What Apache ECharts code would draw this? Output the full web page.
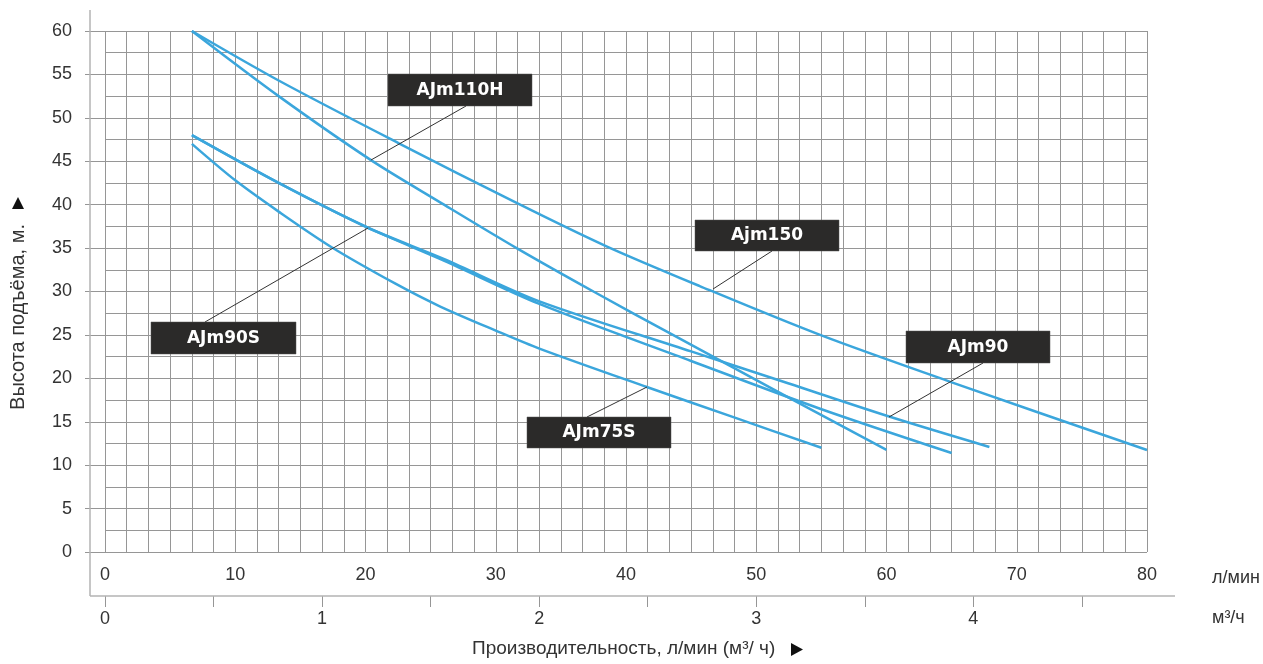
<!DOCTYPE html>
<html>
<head>
<meta charset="utf-8">
<script src="https://cdn.jsdelivr.net/npm/echarts@6/dist/echarts.min.js"></script>
<style>
html,body{margin:0;padding:0;background:#fff;}
#chart{width:1263px;height:664px;}
</style>
</head>
<body>
<div id="chart"></div>
<script>
// ---- data (flow in л/мин, head in м) ----
const seriesNames = ['AJm110H', 'Ajm150', 'AJm90', 'AJm90S', 'AJm75S'];
const flowAJm110H = [6.67, 13.33, 20.45, 25.7, 31.6, 37.5, 43.6, 52.6, 60];
const headAJm110H = [60, 52.5, 45.1, 40.3, 35.0, 30.0, 25.0, 17.7, 11.75];
const flowAjm150 = [6.67, 13.33, 22.56, 31.6, 38.5, 45.7, 54.9, 64.9, 80];
const headAjm150 = [60, 54.3, 47.07, 40.2, 35.2, 30.6, 25.0, 19.6, 11.75];
const flowAJm90 = [6.67, 13.33, 20.1, 26.1, 33.3, 45, 52.5, 60.2, 67.9];
const headAJm90 = [48, 42.5, 37.4, 33.7, 28.9, 23.1, 19.4, 15.6, 12.1];
const flowAJm90S = [6.67, 13.33, 20.1, 26.1, 33.3, 45, 54.9, 65];
const headAJm90S = [48, 42.5, 37.4, 33.5, 28.6, 22.0, 16.5, 11.4];
const flowAJm75S = [6.67, 10, 13.33, 17.4, 22.3, 25.7, 30, 33.4, 41.6, 48.3, 55];
const headAJm75S = [47, 42.8, 39.2, 35.1, 30.9, 28.3, 25.5, 23.4, 19.0, 15.5, 12.0];

const lpmTicks = [0, 10, 20, 30, 40, 50, 60, 70, 80];
const m3hTicks = [0, 0.5, 1, 1.5, 2, 2.5, 3, 3.5, 4, 4.5];
const m3hLabels = [0, 1, 2, 3, 4];
const headTicks = [0, 5, 10, 15, 20, 25, 30, 35, 40, 45, 50, 55, 60];

const yTitle = 'Высота подъёма, м.';
const xTitle = 'Производительность, л/мин (м³/ ч)';
const unitLpm = 'л/мин';
const unitM3h = 'м³/ч';

// ---- chart ----
function pairs(xs, ys) { return xs.map((x, i) => [x, ys[i]]); }
const allFlows = [flowAJm110H, flowAjm150, flowAJm90, flowAJm90S, flowAJm75S];
const allHeads = [headAJm110H, headAjm150, headAJm90, headAJm90S, headAJm75S];

const BLUE = '#3ba6dc';
const GRIDC = '#969696';
const FONT = '"Liberation Sans", Arial, sans-serif';
const TXT = '#333333';

const chart = echarts.init(document.getElementById('chart'), null, {renderer: 'canvas'});

function labelBox(text, x, y, w, h, lx1, ly1, lx2, ly2) {
  return [
    {type: 'line', z: 90, shape: {x1: lx1, y1: ly1, x2: lx2, y2: ly2},
     style: {stroke: '#333', lineWidth: 1}},
    {type: 'rect', z: 100, shape: {x: x, y: y, width: w, height: h},
     style: {fill: '#2b2a29', stroke: '#555', lineWidth: 0.5}},
    {type: 'text', z: 101, x: x + w / 2, y: y + h / 2 + 0.5,
     style: {text: text, fill: '#ffffff', font: 'bold 17px "DejaVu Sans", sans-serif',
             align: 'center', verticalAlign: 'middle'}}
  ];
}

const option = {
  animation: false,
  backgroundColor: '#ffffff',
  grid: {left: 105, right: 116, top: 31, bottom: 112, containLabel: false},
  xAxis: [
    {
      type: 'value', min: 0, max: 80, interval: 10, position: 'bottom', offset: 44,
      axisLine: {show: false},
      axisTick: {show: true, inside: true, length: 10, customValues: lpmTicks,
                 lineStyle: {color: GRIDC, width: 1}},
      axisLabel: {show: true, inside: true, margin: 12, customValues: lpmTicks,
                  fontSize: 18, fontFamily: FONT, color: TXT},
      splitLine: {show: true, lineStyle: {color: GRIDC, width: 1}},
      minorTick: {show: false, splitNumber: 6},
      minorSplitLine: {show: true, lineStyle: {color: GRIDC, width: 1}}
    },
    {
      type: 'value', min: 0, max: 4.8, interval: 0.5, position: 'bottom', offset: 44,
      axisLine: {show: false},
      axisTick: {show: true, inside: false, length: 11, customValues: m3hTicks,
                 lineStyle: {color: GRIDC, width: 1}},
      axisLabel: {show: true, margin: 14, customValues: m3hLabels,
                  fontSize: 18, fontFamily: FONT, color: TXT},
      splitLine: {show: false}
    }
  ],
  yAxis: {
    type: 'value', min: 0, max: 60, interval: 5, offset: 5,
    axisLine: {show: false},
    axisTick: {show: true, length: 20, customValues: headTicks,
               lineStyle: {color: GRIDC, width: 1}},
    axisLabel: {margin: 28, fontSize: 18, fontFamily: FONT, color: TXT,
                customValues: headTicks},
    splitLine: {show: true, lineStyle: {color: GRIDC, width: 1}},
    minorTick: {show: false, splitNumber: 2},
    minorSplitLine: {show: true, lineStyle: {color: GRIDC, width: 1}}
  },
  series: seriesNames.map((name, i) => ({
    name: name, type: 'line', xAxisIndex: 0, yAxisIndex: 0,
    data: pairs(allFlows[i], allHeads[i]),
    smooth: 0.3, showSymbol: false, symbol: 'none', z: 5,
    lineStyle: {color: BLUE, width: 2.5},
    itemStyle: {color: BLUE}
  })),
  graphic: [
    {type: 'line', z: 50, shape: {x1: 90, y1: 10, x2: 90, y2: 596},
     style: {stroke: '#b3b3b3', lineWidth: 1.5}},
    {type: 'line', z: 50, shape: {x1: 90, y1: 596, x2: 1175, y2: 596},
     style: {stroke: '#b3b3b3', lineWidth: 1.5}},
    {type: 'text', x: 1212, y: 578,
     style: {text: unitLpm, font: '18px ' + FONT, fill: TXT, align: 'left', verticalAlign: 'middle'}},
    {type: 'text', x: 1212, y: 618,
     style: {text: unitM3h, font: '18px ' + FONT, fill: TXT, align: 'left', verticalAlign: 'middle'}},
    {type: 'text', x: 472, y: 649,
     style: {text: xTitle, font: '19px ' + FONT, fill: TXT, align: 'left', verticalAlign: 'middle'}},
    {type: 'polygon', shape: {points: [[791, 643], [791, 656], [803, 649.5]]},
     style: {fill: '#111'}},
    {type: 'text', x: 18, y: 317, rotation: Math.PI / 2,
     style: {text: yTitle, font: '20px ' + FONT, fill: TXT, align: 'center', verticalAlign: 'middle'}},
    {type: 'polygon', shape: {points: [[12, 209], [24, 209], [18, 197]]},
     style: {fill: '#111'}}
  ]
    .concat(labelBox('AJm110H', 388, 74, 144, 32, 466, 106, 371, 160))
    .concat(labelBox('Ajm150', 695, 220, 144, 31, 772, 251, 713, 289))
    .concat(labelBox('AJm75S', 527, 417, 144, 31, 647, 387, 587, 417))
    .concat(labelBox('AJm90', 906, 331, 144, 32, 983, 363, 889, 417))
    .concat(labelBox('AJm90S', 151, 322, 145, 32, 368, 228, 205, 322))
};
chart.setOption(option);
</script>
</body>
</html>
